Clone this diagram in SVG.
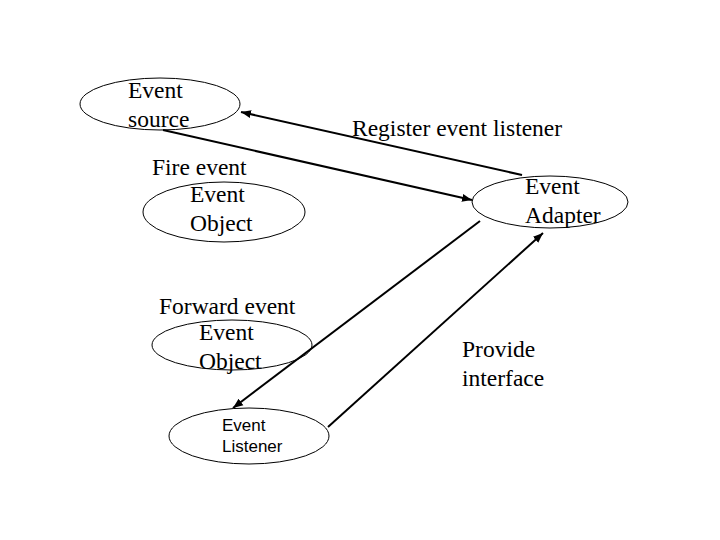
<svg xmlns="http://www.w3.org/2000/svg" width="720" height="540" viewBox="0 0 720 540">
<defs>
<style>
.n{fill:none;stroke:#000;stroke-width:1}
.t{font-family:"Liberation Serif","Times New Roman",serif;font-size:23.5px;fill:#000}
.s{font-family:"Liberation Sans",Arial,sans-serif;font-size:17px;fill:#000}
.c{stroke:#000;stroke-width:2;fill:none;marker-end:url(#ah)}
</style>
<marker id="ah" viewBox="0 0 10 10" refX="10" refY="5" markerWidth="5" markerHeight="5" orient="auto" markerUnits="strokeWidth">
<path d="M0,1 L10,5 L0,9 Z" fill="#000"/>
</marker>
</defs>
<rect width="720" height="540" fill="#fff"/>
<g id="connectors">
<line class="c" x1="522" y1="175" x2="241" y2="112"/>
<line class="c" x1="163" y1="130" x2="472" y2="200"/>
<line class="c" x1="480" y1="221" x2="233" y2="408"/>
<line class="c" x1="328" y1="427" x2="543" y2="233"/>
</g>
<g id="event-source">
<ellipse class="n" cx="160" cy="104" rx="80" ry="26"/>
<text class="t" x="128" y="98">Event</text>
<text class="t" x="128" y="127">source</text>
</g>
<g id="fire-event-object">
<text class="t" x="152" y="175">Fire event</text>
<ellipse class="n" cx="224" cy="212" rx="81" ry="30"/>
<text class="t" x="190" y="202">Event</text>
<text class="t" x="190" y="231">Object</text>
</g>
<g id="event-adapter">
<ellipse class="n" cx="550" cy="202" rx="78" ry="26"/>
<text class="t" x="525" y="194">Event</text>
<text class="t" x="525" y="223">Adapter</text>
</g>
<g id="forward-event-object">
<text class="t" x="159" y="314">Forward event</text>
<ellipse class="n" cx="232" cy="345" rx="80" ry="25"/>
<text class="t" x="199" y="340">Event</text>
<text class="t" x="199" y="369">Object</text>
</g>
<g id="event-listener">
<ellipse class="n" cx="249" cy="436" rx="80" ry="28"/>
<text class="s" x="222" y="431">Event</text>
<text class="s" x="222" y="452">Listener</text>
</g>
<g id="labels">
<text class="t" x="352" y="136">Register event listener</text>
<text class="t" x="462" y="357">Provide</text>
<text class="t" x="462" y="386">interface</text>
</g>
</svg>
